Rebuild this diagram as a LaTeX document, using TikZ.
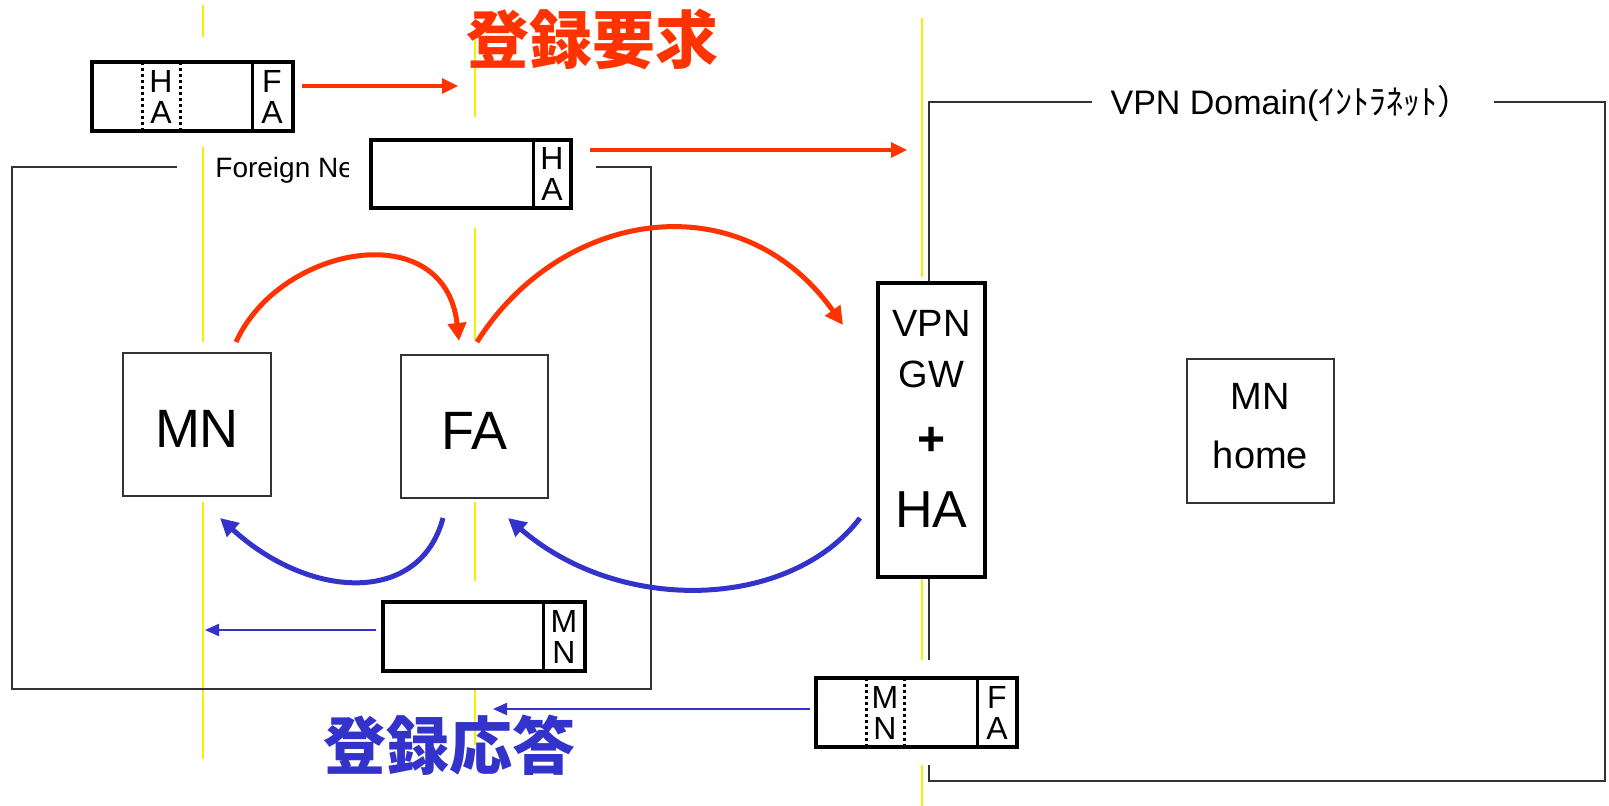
\documentclass[tikz,border=0pt]{standalone}
\usepackage{fontspec}
\setmainfont{Liberation Sans}
\newfontfamily\jpfont{Noto Sans CJK JP}
\usetikzlibrary{arrows.meta,calc}
\definecolor{reqred}{HTML}{FF3300}
\definecolor{repblue}{HTML}{3333CC}
\definecolor{wire}{HTML}{F2F200}
\definecolor{outline}{HTML}{333333}

\begin{document}
\begin{tikzpicture}[x=0.5pt,y=-0.5pt,line join=miter,
  box/.style={draw=outline,line width=1pt,fill=white,inner sep=0pt},
  packet/.style={draw=black,line width=2pt,fill=white,inner sep=0pt,
    minimum width=100.5pt,minimum height=34.5pt},
  tag/.style={font=\fontsize{16}{15.5}\selectfont,align=center,inner sep=0pt},
  sep/.style={black,line width=1.5pt},
  dots/.style={black,line width=1.5pt,dash pattern=on 1.5pt off 1.5pt},
  border/.style={outline,line width=1pt},
  wireline/.style={wire,line width=1pt},
  reqarc/.style={reqred,line width=2.5pt,-{Triangle[length=9pt,width=9pt]}},
  reparc/.style={repblue,line width=2.5pt,-{Triangle[length=9pt,width=9pt]}},
  reqmsg/.style={reqred,line width=1.6pt,-{Triangle[length=8pt,width=7.5pt]}},
  repmsg/.style={repblue,line width=1.1pt,-{Triangle[length=7pt,width=6pt]}},
  big/.style={font=\fontsize{27}{27}\selectfont,inner sep=0pt},
  mid/.style={font=\fontsize{19}{19}\selectfont,inner sep=0pt},
  jp/.style={font=\jpfont\bfseries\fontsize{31.5}{31.5}\selectfont,inner sep=0pt}]
\useasboundingbox[fill=white] (0,0) rectangle (1609,806);

% yellow guide wires
\draw[wireline] (203,5)--(203,37) (203,147)--(203,342) (203,502)--(203,759);
\draw[wireline] (475,40)--(475,117) (475,222)--(475,340) (475,502)--(475,581)
  (475,690)--(475,745);
\draw[wireline] (922,18)--(922,277) (922,577)--(922,660) (922,765)--(922,806);

% foreign network
\draw[border] (177,167)--(12,167)--(12,689)--(651,689)--(651,167)--(596,167);
\node[anchor=base west,inner sep=0pt,font=\fontsize{14}{14}\selectfont]
  (fnlabel) at (215,178) {Foreign Network};
\fill[white] (349,120) rectangle (591,228);

% vpn domain
\draw[border] (1092,102)--(929,102)--(929,660) (929,765)--(929,781)--(1605,781)
  --(1605,102)--(1494,102);
\node[inner sep=0pt,font=\fontsize{17}{17}\selectfont] (vpnlabel) at (1291,103)
  {VPN Domain({\jpfont ｲﾝﾄﾗﾈｯﾄ）}};

% packets
\node[packet] (pk1) at (192.5,96.5) {};
\draw[sep] (252,62)--(252,131);
\draw[dots] (142,62)--(142,131) (180,62)--(180,131);
\node[tag] (pk1a) at (161,96.5) {H\\A};
\node[tag] (pk1b) at (272,96.5) {F\\A};

\node[packet,minimum width=100pt,minimum height=34pt] (pk2) at (471,174) {};
\draw[sep] (533,140)--(533,208);
\node[tag] (pk2b) at (552,174) {H\\A};

\node[packet,minimum width=101pt] (pk3) at (484,636.5) {};
\draw[sep] (543,602)--(543,671);
\node[tag] (pk3b) at (564,636.5) {M\\N};

\node[packet] (pk4) at (916.5,712.5) {};
\draw[sep] (977,678)--(977,747);
\draw[dots] (866,678)--(866,747) (904,678)--(904,747);
\node[tag] (pk4a) at (885,712.5) {M\\N};
\node[tag] (pk4b) at (997,712.5) {F\\A};

% hosts
\node[box,minimum width=74pt,minimum height=71.5pt] (mn) at (197,424.5) {};
\node[big,anchor=base] (mnt) at (197,447) {MN};
\node[box,minimum width=73.5pt,minimum height=71.5pt] (fa) at (474.5,426.5) {};
\node[big,anchor=base] (fat) at (474.5,450) {FA};
\node[box,line width=2pt,draw=black,minimum width=53.5pt,minimum height=147pt]
  (gw) at (931.5,430) {};
\node[mid,anchor=base] (gw1) at (931.5,337) {VPN};
\node[mid,anchor=base] (gw2) at (931.5,388) {GW};
\node[inner sep=0pt,font=\bfseries\fontsize{24}{24}\selectfont] (gw3) at (931.5,441) {+};
\node[inner sep=0pt,anchor=base,font=\fontsize{26}{26}\selectfont] (gw4) at (931.5,527) {HA};
\node[box,minimum width=73.5pt,minimum height=72pt] (home) at (1260.5,431) {};
\node[mid,anchor=base] (home1) at (1260.5,410) {MN};
\node[mid,anchor=base] (home2) at (1260.5,468) {home};

% arc end points
\coordinate (r1s) at (236,342);
\coordinate (r1e) at (459,341);
\coordinate (r2s) at (477,342);
\coordinate (r2e) at (843,325);
\coordinate (b1s) at (443,518);
\coordinate (b1e) at (220,518);
\coordinate (b2s) at (860,518);
\coordinate (b2e) at (508,518);
\coordinate (q1) at (458,86);
\coordinate (q2) at (907,150);
\coordinate (p1) at (205,630);
\coordinate (p2) at (493,709);

% registration request
\draw[reqarc] (r1s) .. controls (280,245) and (445,215) .. (r1e);
\draw[reqarc] (r2s) .. controls (560,210) and (740,180) .. (r2e);
\draw[reqmsg,shorten <=3.5pt] (pk1.east |- q1) -- (q1);
\draw[reqmsg,shorten <=8.5pt] (pk2.east |- q2) -- (q2);

% registration reply
\draw[reparc] (b2s) .. controls (790,610) and (620,615) .. (b2e);
\draw[reparc] (b1s) .. controls (420,605) and (310,600) .. (b1e);
\draw[repmsg,shorten <=2.5pt] (pk3.west |- p1) -- (p1);
\draw[repmsg,shorten <=2pt] (pk4.west |- p2) -- (p2);

\node[jp,text=reqred] (reqtext) at (592,39) {登録要求};
\node[jp,text=repblue] (reptext) at (449,745) {登録応答};
\end{tikzpicture}
\end{document}
